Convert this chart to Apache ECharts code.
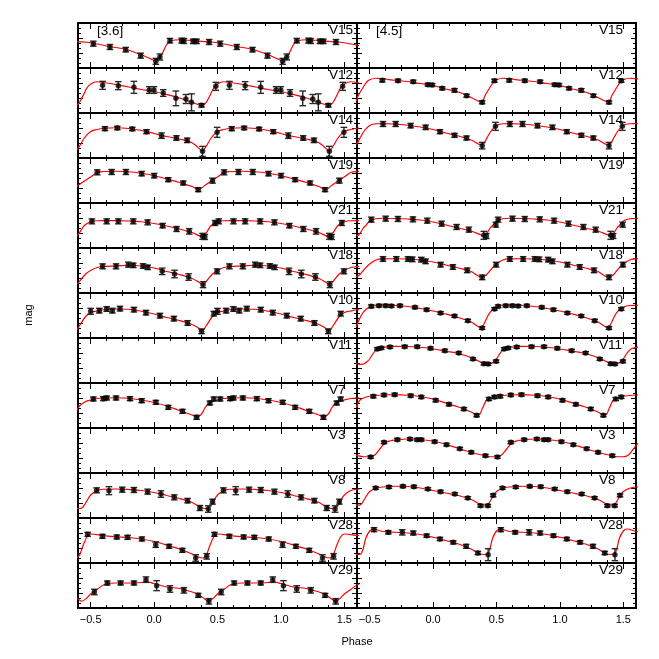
<!DOCTYPE html>
<html><head><meta charset="utf-8">
<script src="https://cdn.jsdelivr.net/npm/echarts@6/dist/echarts.min.js"></script>
<style>html,body{margin:0;padding:0;background:#fff}#c{width:659px;height:659px}</style>
</head><body><div id="c"></div>
<script>
// ---- panel names ----
const leftNames  = ['V15','V12','V14','V19','V21','V18','V10','V11','V7','V3','V8','V28','V29'];
const rightNames = ['V15','V12','V14','V19','V21','V18','V10','V11','V7','V3','V8','V28','V29'];
const bandLabels = ['[3.6]','[4.5]'];
const xTickLabels = [-0.5, 0, 0.5, 1, 1.5];
const xMinorTicks = [-0.375,-0.25,-0.125,0.125,0.25,0.375,0.625,0.75,0.875,1.125,1.25,1.375];

// ---- [3.6] points: [phase, relative mag, error] ; fits: [phase, relative mag] (one cycle) ----
const pts_V15_36 = [[-0.479,0.413,0.05],[-0.348,0.48,0.05],[-0.224,0.533,0.045],[-0.106,0.653,0.05],[0.014,0.767,0.06],[0.046,0.68,0.06],[0.125,0.353,0.045],[0.217,0.353,0.05],[0.235,0.36,0.05],[0.308,0.367,0.045],[0.335,0.367,0.045],[0.434,0.38,0.05]];
const fit_V15_36 = [[-0.5,0.395],[-0.35,0.47],[-0.22,0.53],[-0.1,0.635],[-0.03,0.713],[0,0.745],[0.03,0.73],[0.07,0.58],[0.1,0.43],[0.14,0.35],[0.2,0.335],[0.3,0.352],[0.4,0.373]];
const pts_V12_36 = [[-0.406,0.347,0.08],[-0.282,0.353,0.08],[-0.159,0.387,0.12],[-0.038,0.44,0.067],[-0.001,0.44,0.067],[0.072,0.5,0.067],[0.172,0.607,0.147],[0.251,0.62,0.09],[0.295,0.687,0.17],[0.374,0.747,0.035],[0.487,0.367,0.08]];
const fit_V12_36 = [[-0.5,0.32],[-0.45,0.275],[-0.4,0.29],[-0.3,0.33],[-0.2,0.38],[-0.1,0.43],[0,0.47],[0.1,0.53],[0.2,0.6],[0.3,0.69],[0.36,0.74],[0.385,0.745],[0.41,0.69],[0.44,0.55],[0.47,0.4]];
const pts_V14_36 = [[-0.388,0.313,0.04],[-0.29,0.3,0.035],[-0.172,0.32,0.035],[-0.06,0.373,0.04],[0.059,0.453,0.055],[0.176,0.5,0.045],[0.261,0.547,0.045],[0.382,0.767,0.1],[0.497,0.387,0.1]];
const fit_V14_36 = [[-0.5,0.37],[-0.45,0.33],[-0.4,0.305],[-0.3,0.295],[-0.2,0.31],[-0.1,0.35],[0,0.41],[0.1,0.47],[0.2,0.52],[0.28,0.57],[0.33,0.65],[0.38,0.755],[0.41,0.67],[0.45,0.5]];
const pts_V19_36 = [[-0.448,0.287,0.05],[-0.335,0.28,0.05],[-0.222,0.28,0.05],[-0.098,0.313,0.045],[0.001,0.353,0.045],[0.112,0.433,0.04],[0.23,0.5,0.04],[0.348,0.633,0.04],[0.461,0.453,0.05]];
const fit_V19_36 = [[-0.5,0.38],[-0.45,0.29],[-0.4,0.27],[-0.3,0.265],[-0.2,0.275],[-0.1,0.305],[0,0.35],[0.1,0.42],[0.2,0.49],[0.3,0.57],[0.35,0.63],[0.4,0.55],[0.45,0.46]];
const pts_V21_36 = [[-0.49,0.367,0.05],[-0.374,0.367,0.05],[-0.282,0.367,0.05],[-0.164,0.367,0.05],[-0.051,0.387,0.05],[0.067,0.453,0.045],[0.177,0.52,0.05],[0.277,0.567,0.055],[0.382,0.667,0.06],[0.4,0.68,0.05],[0.48,0.4,0.05]];
const fit_V21_36 = [[-0.5,0.375],[-0.45,0.355],[-0.4,0.353],[-0.3,0.353],[-0.2,0.36],[-0.1,0.375],[0,0.41],[0.1,0.46],[0.2,0.52],[0.3,0.59],[0.38,0.67],[0.41,0.6],[0.45,0.45]];
const pts_V18_36 = [[-0.406,0.367,0.05],[-0.3,0.367,0.05],[-0.203,0.333,0.05],[-0.164,0.347,0.045],[-0.087,0.36,0.045],[-0.05,0.387,0.045],[0.064,0.467,0.065],[0.161,0.52,0.075],[0.272,0.58,0.065],[0.386,0.733,0.06],[0.497,0.467,0.05]];
const fit_V18_36 = [[-0.5,0.45],[-0.45,0.39],[-0.4,0.37],[-0.3,0.36],[-0.2,0.345],[-0.1,0.36],[0,0.4],[0.1,0.47],[0.2,0.53],[0.3,0.61],[0.35,0.68],[0.385,0.73],[0.42,0.64],[0.46,0.52]];
const pts_V10_36 = [[-0.5,0.367,0.06],[-0.432,0.353,0.047],[-0.374,0.32,0.047],[-0.329,0.353,0.047],[-0.269,0.313,0.047],[-0.159,0.333,0.047],[-0.064,0.393,0.047],[0.046,0.453,0.047],[0.156,0.513,0.047],[0.264,0.6,0.047],[0.374,0.767,0.047],[0.471,0.413,0.047]];
const fit_V10_36 = [[-0.5,0.39],[-0.45,0.36],[-0.4,0.335],[-0.3,0.32],[-0.2,0.325],[-0.1,0.365],[0,0.42],[0.1,0.49],[0.2,0.55],[0.3,0.63],[0.35,0.7],[0.38,0.75],[0.41,0.66],[0.46,0.47]];
const pts_V7_36 = [[-0.479,0.32,0.04],[-0.4,0.313,0.04],[-0.374,0.3,0.04],[-0.3,0.3,0.04],[-0.19,0.313,0.04],[-0.098,0.353,0.04],[0.014,0.387,0.04],[0.112,0.487,0.04],[0.224,0.567,0.04],[0.335,0.687,0.04],[0.44,0.4,0.04],[0.471,0.32,0.04]];
const fit_V7_36 = [[-0.5,0.34],[-0.45,0.31],[-0.4,0.3],[-0.3,0.295],[-0.2,0.305],[-0.1,0.34],[0,0.39],[0.1,0.46],[0.2,0.55],[0.3,0.64],[0.34,0.685],[0.38,0.6],[0.4,0.5],[0.42,0.44],[0.46,0.37]];
const pts_V8_36 = [[-0.453,0.347,0.05],[-0.356,0.353,0.08],[-0.251,0.333,0.05],[-0.159,0.34,0.05],[-0.051,0.373,0.05],[0.054,0.42,0.065],[0.159,0.487,0.05],[0.264,0.553,0.045],[0.361,0.7,0.05],[0.427,0.72,0.065],[0.461,0.573,0.05]];
const fit_V8_36 = [[-0.5,0.44],[-0.45,0.35],[-0.4,0.325],[-0.3,0.32],[-0.2,0.33],[-0.1,0.35],[0,0.39],[0.1,0.45],[0.2,0.51],[0.3,0.59],[0.35,0.66],[0.4,0.71],[0.43,0.7],[0.46,0.6]];
const pts_V28_36 = [[-0.524,0.327,0.04],[-0.407,0.367,0.04],[-0.294,0.38,0.04],[-0.209,0.387,0.04],[-0.096,0.42,0.04],[0.013,0.533,0.055],[0.118,0.567,0.04],[0.223,0.647,0.04],[0.328,0.8,0.065],[0.415,0.767,0.055]];
const fit_V28_36 = [[-0.5,0.32],[-0.4,0.35],[-0.3,0.375],[-0.2,0.39],[-0.1,0.42],[0,0.47],[0.1,0.54],[0.2,0.62],[0.3,0.72],[0.35,0.78],[0.38,0.8],[0.41,0.75],[0.44,0.55],[0.47,0.38]];
const pts_V29_36 = [[-0.471,0.58,0.055],[-0.369,0.4,0.04],[-0.264,0.4,0.04],[-0.159,0.4,0.04],[-0.064,0.333,0.055],[0.02,0.453,0.1],[0.125,0.52,0.065],[0.235,0.547,0.055],[0.348,0.647,0.04],[0.432,0.767,0.055]];
const fit_V29_36 = [[-0.5,0.62],[-0.45,0.53],[-0.4,0.44],[-0.35,0.405],[-0.3,0.4],[-0.2,0.4],[-0.1,0.39],[-0.06,0.375],[0,0.41],[0.1,0.48],[0.2,0.51],[0.3,0.58],[0.35,0.63],[0.4,0.72],[0.43,0.765],[0.47,0.7]];

// ---- [4.5] ----
const pts_V12_45 = [[-0.4,0.247,0.033],[-0.277,0.253,0.03],[-0.156,0.273,0.03],[-0.041,0.333,0.03],[-0.007,0.34,0.03],[0.072,0.407,0.03],[0.169,0.447,0.035],[0.264,0.553,0.03],[0.387,0.687,0.03],[0.484,0.253,0.03]];
const fit_V12_45 = [[-0.5,0.235],[-0.45,0.205],[-0.4,0.215],[-0.3,0.245],[-0.2,0.27],[-0.1,0.31],[0,0.35],[0.1,0.42],[0.2,0.48],[0.3,0.59],[0.36,0.665],[0.385,0.68],[0.41,0.55],[0.45,0.38],[0.48,0.27]];
const pts_V14_45 = [[-0.395,0.22,0.05],[-0.295,0.22,0.05],[-0.177,0.253,0.045],[-0.059,0.287,0.045],[0.054,0.373,0.04],[0.169,0.447,0.04],[0.264,0.5,0.04],[0.387,0.653,0.065],[0.492,0.267,0.08]];
const fit_V14_45 = [[-0.5,0.25],[-0.45,0.215],[-0.4,0.213],[-0.3,0.22],[-0.2,0.245],[-0.1,0.28],[0,0.33],[0.1,0.4],[0.2,0.46],[0.3,0.54],[0.38,0.635],[0.4,0.61],[0.42,0.52],[0.46,0.35]];
const pts_V21_45 = [[-0.487,0.333,0.05],[-0.374,0.313,0.05],[-0.277,0.32,0.05],[-0.159,0.327,0.05],[-0.046,0.353,0.05],[0.067,0.413,0.05],[0.185,0.48,0.05],[0.282,0.533,0.05],[0.4,0.647,0.08],[0.42,0.66,0.05],[0.495,0.433,0.05]];
const fit_V21_45 = [[-0.5,0.36],[-0.45,0.315],[-0.4,0.305],[-0.3,0.31],[-0.2,0.32],[-0.1,0.34],[0,0.38],[0.1,0.44],[0.2,0.5],[0.3,0.56],[0.38,0.64],[0.4,0.655],[0.42,0.62],[0.45,0.5],[0.47,0.45]];
const pts_V18_45 = [[-0.395,0.22,0.047],[-0.29,0.22,0.047],[-0.198,0.22,0.047],[-0.164,0.227,0.047],[-0.093,0.233,0.047],[-0.059,0.267,0.047],[0.059,0.333,0.047],[0.156,0.38,0.047],[0.269,0.447,0.047],[0.387,0.587,0.047],[0.497,0.333,0.047]];
const fit_V18_45 = [[-0.5,0.32],[-0.45,0.24],[-0.4,0.218],[-0.3,0.215],[-0.2,0.22],[-0.1,0.24],[0,0.28],[0.1,0.34],[0.2,0.4],[0.3,0.47],[0.38,0.58],[0.4,0.57],[0.42,0.54],[0.46,0.42]];
const pts_V10_45 = [[-0.487,0.267,0.03],[-0.427,0.253,0.027],[-0.374,0.253,0.027],[-0.329,0.26,0.027],[-0.261,0.253,0.027],[-0.143,0.287,0.027],[-0.051,0.333,0.027],[0.059,0.4,0.027],[0.169,0.46,0.027],[0.274,0.553,0.027],[0.387,0.7,0.027],[0.484,0.32,0.027]];
const fit_V10_45 = [[-0.5,0.28],[-0.45,0.25],[-0.4,0.248],[-0.3,0.25],[-0.2,0.27],[-0.1,0.31],[0,0.36],[0.1,0.42],[0.2,0.49],[0.3,0.58],[0.38,0.69],[0.405,0.6],[0.44,0.42],[0.47,0.33]];
const pts_V11_45 = [[-0.44,0.22,0.027],[-0.408,0.2,0.027],[-0.34,0.18,0.027],[-0.224,0.173,0.027],[-0.125,0.173,0.027],[-0.02,0.207,0.027],[0.093,0.253,0.027],[0.203,0.3,0.027],[0.314,0.42,0.027],[0.4,0.513,0.027],[0.434,0.52,0.027],[0.497,0.467,0.027]];
const fit_V11_45 = [[-0.5,0.42],[-0.47,0.3],[-0.44,0.22],[-0.4,0.19],[-0.35,0.175],[-0.3,0.168],[-0.2,0.17],[-0.1,0.185],[0,0.22],[0.1,0.265],[0.2,0.31],[0.3,0.39],[0.35,0.45],[0.4,0.515],[0.43,0.527],[0.46,0.51],[0.48,0.47]];
const pts_V7_45 = [[-0.471,0.267,0.03],[-0.387,0.24,0.03],[-0.303,0.233,0.03],[-0.177,0.253,0.03],[-0.093,0.28,0.03],[0.02,0.347,0.03],[0.125,0.427,0.03],[0.243,0.52,0.03],[0.343,0.647,0.03],[0.44,0.32,0.03],[0.484,0.28,0.03]];
const fit_V7_45 = [[-0.5,0.265],[-0.4,0.24],[-0.3,0.233],[-0.2,0.245],[-0.1,0.27],[0,0.32],[0.1,0.4],[0.2,0.48],[0.3,0.58],[0.34,0.635],[0.36,0.64],[0.39,0.5],[0.42,0.35],[0.46,0.29]];
const pts_V3_45 = [[-0.492,0.58,0.027],[-0.387,0.287,0.027],[-0.282,0.233,0.027],[-0.182,0.22,0.027],[-0.125,0.233,0.027],[-0.093,0.233,0.027],[0.012,0.273,0.027],[0.106,0.333,0.027],[0.211,0.413,0.027],[0.301,0.487,0.027],[0.413,0.553,0.027]];
const fit_V3_45 = [[-0.5,0.575],[-0.46,0.54],[-0.42,0.42],[-0.38,0.3],[-0.33,0.25],[-0.3,0.24],[-0.2,0.22],[-0.1,0.23],[0,0.265],[0.1,0.325],[0.2,0.41],[0.3,0.485],[0.4,0.55],[0.45,0.575]];
const pts_V8_45 = [[-0.453,0.3,0.027],[-0.348,0.28,0.027],[-0.238,0.267,0.027],[-0.151,0.273,0.027],[-0.041,0.32,0.027],[0.059,0.373,0.027],[0.172,0.42,0.027],[0.274,0.5,0.027],[0.374,0.653,0.027],[0.432,0.653,0.027],[0.474,0.447,0.03]];
const fit_V8_45 = [[-0.5,0.37],[-0.45,0.305],[-0.4,0.28],[-0.3,0.265],[-0.2,0.27],[-0.1,0.3],[0,0.35],[0.1,0.4],[0.2,0.45],[0.3,0.53],[0.36,0.61],[0.4,0.645],[0.43,0.63],[0.46,0.52]];
const pts_V28_45 = [[-0.466,0.233,0.04],[-0.353,0.287,0.033],[-0.243,0.287,0.053],[-0.156,0.3,0.04],[-0.051,0.353,0.033],[0.054,0.42,0.033],[0.159,0.487,0.033],[0.261,0.567,0.04],[0.353,0.7,0.033],[0.434,0.733,0.12]];
const fit_V28_45 = [[-0.5,0.26],[-0.47,0.22],[-0.4,0.27],[-0.3,0.285],[-0.2,0.3],[-0.1,0.33],[0,0.385],[0.1,0.45],[0.2,0.52],[0.3,0.62],[0.35,0.69],[0.4,0.73],[0.43,0.72],[0.45,0.6],[0.47,0.4]];

const leftPts  = [pts_V15_36,pts_V12_36,pts_V14_36,pts_V19_36,pts_V21_36,pts_V18_36,pts_V10_36,null,pts_V7_36,null,pts_V8_36,pts_V28_36,pts_V29_36];
const leftFit  = [fit_V15_36,fit_V12_36,fit_V14_36,fit_V19_36,fit_V21_36,fit_V18_36,fit_V10_36,null,fit_V7_36,null,fit_V8_36,fit_V28_36,fit_V29_36];
const rightPts = [null,pts_V12_45,pts_V14_45,null,pts_V21_45,pts_V18_45,pts_V10_45,pts_V11_45,pts_V7_45,pts_V3_45,pts_V8_45,pts_V28_45,null];
const rightFit = [null,fit_V12_45,fit_V14_45,null,fit_V21_45,fit_V18_45,fit_V10_45,fit_V11_45,fit_V7_45,fit_V3_45,fit_V8_45,fit_V28_45,null];

// ---- build ----
const FONT = '"Liberation Sans", Arial, Helvetica, sans-serif';
const COLX = [78, 357], W = 279, TOP = 23, H = 45;
const grids = [], xAxes = [], yAxes = [], series = [], graphics = [];
const blk = {color:'#000', width:1};
const fmt = v => (v < 0 ? '\u2212' : '') + Math.abs(v).toFixed(1);

function tile(fit){
  const out = [];
  for (let k = -1; k <= 2; k++) for (const [p, m] of fit) { const x = p + k; if (x >= -0.85 && x <= 1.85) out.push([x, m]); }
  return out.sort((a, b) => a[0] - b[0]);
}
function dup(pts){
  const out = [];
  for (const [p, m, e] of pts) { out.push([p, m, e]); out.push([p + 1, m, e]); }
  return out;
}
function errRender(params, api){
  const x = api.value(0), y = api.value(1), e = api.value(2);
  const a = api.coord([x, y - e]), b = api.coord([x, y + e]);
  const hw = 3.3, st = {stroke:'#2a2a2a', lineWidth:1.4};
  return {type:'group', children:[
    {type:'line', shape:{x1:a[0], y1:a[1], x2:b[0], y2:b[1]}, style:st},
    {type:'line', shape:{x1:a[0]-hw, y1:a[1], x2:a[0]+hw, y2:a[1]}, style:st},
    {type:'line', shape:{x1:b[0]-hw, y1:b[1], x2:b[0]+hw, y2:b[1]}, style:st}
  ]};
}

for (let c = 0; c < 2; c++) {
  const names = c === 0 ? leftNames : rightNames;
  const P = c === 0 ? leftPts : rightPts;
  const F = c === 0 ? leftFit : rightFit;
  for (let r = 0; r < 13; r++) {
    const gi = grids.length;
    const top = TOP + H * r;
    grids.push({left: COLX[c], top: top, width: W, height: H, show: true, borderColor: '#000', borderWidth: 2, backgroundColor: 'rgba(0,0,0,0)'});
    const isBottom = r === 12;
    const xb = {type:'value', gridIndex: gi, min:-0.6, max:1.6, axisLine:{show:false, onZero:false}, splitLine:{show:false}};
    const xi = xAxes.length;
    xAxes.push(Object.assign({}, xb, {position:'bottom',
      axisTick:{show:true, inside:true, length:6, customValues: xTickLabels, lineStyle: blk},
      axisLabel: isBottom ? {show:true, customValues: xTickLabels, formatter: fmt, margin:6, fontSize:11, color:'#000', fontFamily: FONT} : {show:false}}));
    xAxes.push(Object.assign({}, xb, {position:'bottom', axisTick:{show:true, inside:true, length:3, customValues: xMinorTicks, lineStyle: blk}, axisLabel:{show:false}}));
    xAxes.push(Object.assign({}, xb, {position:'top', axisTick:{show:true, inside:true, length:6, customValues: xTickLabels, lineStyle: blk}, axisLabel:{show:false}}));
    xAxes.push(Object.assign({}, xb, {position:'top', axisTick:{show:true, inside:true, length:3, customValues: xMinorTicks, lineStyle: blk}, axisLabel:{show:false}}));
    const yb = {type:'value', gridIndex: gi, min:0, max:0.9, interval:0.3, inverse:true,
      axisLine:{show:false, onZero:false}, splitLine:{show:false}, axisLabel:{show:false},
      axisTick:{show:true, inside:true, length:5, lineStyle: blk},
      minorTick:{show:true, splitNumber:3, length:3, lineStyle: blk}};
    const yi = yAxes.length;
    yAxes.push(Object.assign({}, yb, {position:'left'}));
    yAxes.push(Object.assign({}, yb, {position:'right'}));

    if (F[r]) {
      series.push({type:'line', xAxisIndex: xi, yAxisIndex: yi, data: tile(F[r]), smooth: 0.35, symbol:'none',
        lineStyle:{color:'#ff0000', width:1.2}, silent:true, z:2, clip:true});
    }
    if (P[r]) {
      const d = dup(P[r]);
      series.push({type:'custom', xAxisIndex: xi, yAxisIndex: yi, data: d, renderItem: errRender,
        encode:{x:0, y:1}, silent:true, z:3, clip:true});
      series.push({type:'scatter', xAxisIndex: xi, yAxisIndex: yi, data: d.map(p => [p[0], p[1]]),
        symbol:'circle', symbolSize:5.5, itemStyle:{color:'#000'}, silent:true, z:4});
    }
    graphics.push({type:'text', x: c === 0 ? 329 : 599, y: top + 7, z: 10,
      style:{text: names[r], font: '13.5px ' + FONT, fill:'#000', textAlign:'left', textVerticalAlign:'middle', align:'left', verticalAlign:'middle'}});
  }
}
graphics.push({type:'text', x: 97, y: 31, z:10, style:{text: bandLabels[0], font:'13.5px ' + FONT, fill:'#000', textAlign:'left', textVerticalAlign:'middle', align:'left', verticalAlign:'middle'}});
graphics.push({type:'text', x: 376, y: 31, z:10, style:{text: bandLabels[1], font:'13.5px ' + FONT, fill:'#000', textAlign:'left', textVerticalAlign:'middle', align:'left', verticalAlign:'middle'}});
graphics.push({type:'text', x: 357, y: 642, z:10, style:{text:'Phase', font:'11px ' + FONT, fill:'#000', textAlign:'center', textVerticalAlign:'middle', align:'center', verticalAlign:'middle'}});
graphics.push({type:'text', x: 29, y: 315, rotation: Math.PI/2, z:10, style:{text:'mag', font:'11px ' + FONT, fill:'#000', textAlign:'center', textVerticalAlign:'middle', align:'center', verticalAlign:'middle'}});

const chart = echarts.init(document.getElementById('c'), null, {renderer:'canvas'});
chart.setOption({animation:false, backgroundColor:'#fff', grid: grids, xAxis: xAxes, yAxis: yAxes, series: series, graphic: graphics});
</script></body></html>
